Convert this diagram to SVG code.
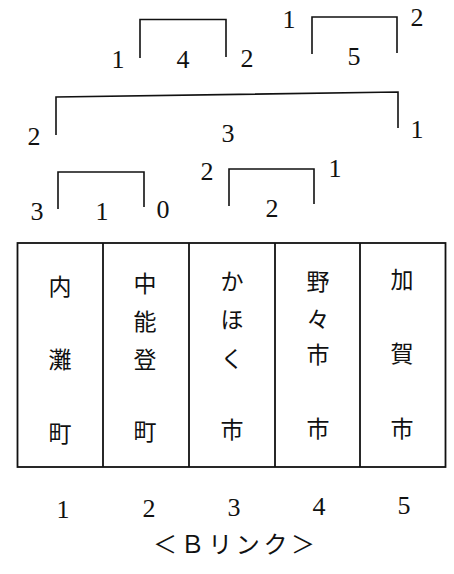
<svg xmlns="http://www.w3.org/2000/svg" width="454" height="574" viewBox="0 0 454 574">
<style>
.br{fill:none;stroke:#111;stroke-width:1.6}
.n{font-family:"Liberation Serif","Noto Sans CJK JP",serif;font-size:26px;fill:#111;text-anchor:middle}
.c{font-family:"Noto Sans CJK JP",sans-serif;font-size:23px;fill:#111;text-anchor:middle;dominant-baseline:central}
.bx{fill:#fff;stroke:#111;stroke-width:1.8}
.j{font-family:"Noto Sans CJK JP",sans-serif;font-size:24px;fill:#111;text-anchor:middle}
</style>
<rect width="454" height="574" fill="#fff"/>
<g id="connectors">
<path class="br" d="M140,58 V19.5 H226 V57"/>
<path class="br" d="M312,54 V17 H397 V53"/>
<path class="br" d="M56,135 V97 L398,92 V128"/>
<path class="br" d="M58,209 V172 H144 V207"/>
<path class="br" d="M229,206 V169 H314 V204"/>
</g>
<g id="labels-top">
<text class="n" x="118" y="68">1</text>
<text class="n" x="183" y="68">4</text>
<text class="n" x="247" y="67">2</text>
<text class="n" x="289" y="28">1</text>
<text class="n" x="354" y="65">5</text>
<text class="n" x="417" y="26">2</text>
<text class="n" x="34" y="145">2</text>
<text class="n" x="228" y="142">3</text>
<text class="n" x="417" y="138">1</text>
<text class="n" x="37" y="220">3</text>
<text class="n" x="102" y="220">1</text>
<text class="n" x="163" y="218">0</text>
<text class="n" x="207" y="180">2</text>
<text class="n" x="272" y="217">2</text>
<text class="n" x="335" y="177">1</text>
</g>
<g id="table">
<rect class="bx" x="17.5" y="243" width="428" height="224"/>
<line x1="103" y1="243" x2="103" y2="467" stroke="#111" stroke-width="1.8"/>
<line x1="189" y1="243" x2="189" y2="467" stroke="#111" stroke-width="1.8"/>
<line x1="275" y1="243" x2="275" y2="467" stroke="#111" stroke-width="1.8"/>
<line x1="360" y1="243" x2="360" y2="467" stroke="#111" stroke-width="1.8"/>
</g>
<g id="node1">
<text class="c" x="60" y="285">内</text>
<text class="c" x="60" y="358">灘</text>
<text class="c" x="60" y="432">町</text>
</g>
<g id="node2">
<text class="c" x="145" y="282">中</text>
<text class="c" x="145" y="320">能</text>
<text class="c" x="145" y="358">登</text>
<text class="c" x="145" y="430">町</text>
</g>
<g id="node3">
<text class="c" x="232" y="280">か</text>
<text class="c" x="232" y="318">ほ</text>
<text class="c" x="232" y="357">く</text>
<text class="c" x="232" y="428">市</text>
</g>
<g id="node4">
<text class="c" x="318" y="280">野</text>
<text class="c" x="318" y="318">々</text>
<text class="c" x="318" y="353">市</text>
<text class="c" x="318" y="427">市</text>
</g>
<g id="node5">
<text class="c" x="402" y="278">加</text>
<text class="c" x="402" y="352">賀</text>
<text class="c" x="402" y="427">市</text>
</g>
<g id="labels-bottom">
<text class="n" x="63" y="518">1</text>
<text class="n" x="149" y="517">2</text>
<text class="n" x="234" y="516">3</text>
<text class="n" x="319" y="515">4</text>
<text class="n" x="404" y="514">5</text>
<text class="j" x="234" y="553" textLength="162" lengthAdjust="spacing">＜Ｂリンク＞</text>
</g>
</svg>
